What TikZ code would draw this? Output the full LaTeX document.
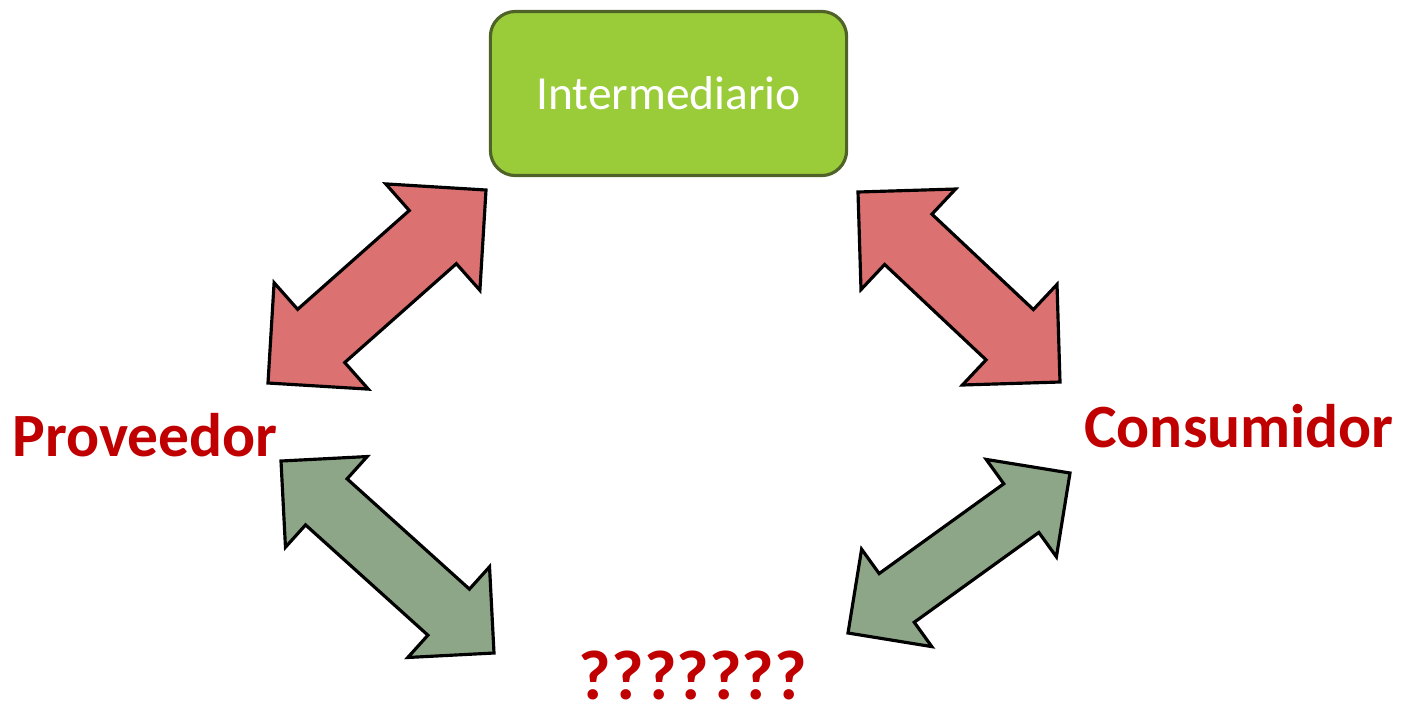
\documentclass[tikz,border=0pt]{standalone}
\usepackage{fontspec}
\setmainfont{Carlito}
\usetikzlibrary{calc}

\definecolor{boxgreen}{RGB}{154,204,58}
\definecolor{boxline}{RGB}{79,98,40}
\definecolor{arrowred}{RGB}{219,113,112}
\definecolor{arrowgreen}{RGB}{141,166,136}
\definecolor{labelred}{RGB}{192,0,0}

% #1 style, #2 #3 tips, #4 head length, #5 half head width, #6 half shaft width
\newcommand{\dblarrow}[6]{%
\draw [#1] (#2) -- ($(#2)!#4!(#3)!#5!90:(#3)$) -- ($(#2)!#4!(#3)!#6!90:(#3)$)
  -- ($(#3)!#4!(#2)!#6!-90:(#2)$) -- ($(#3)!#4!(#2)!#5!-90:(#2)$) -- (#3)
  -- ($(#3)!#4!(#2)!#5!90:(#2)$) -- ($(#3)!#4!(#2)!#6!90:(#2)$)
  -- ($(#2)!#4!(#3)!#6!-90:(#3)$) -- ($(#2)!#4!(#3)!#5!-90:(#3)$) -- cycle;}

\begin{document}
\begin{tikzpicture}[x=0.01cm, y=0.01cm,
  box/.style={draw=boxline, fill=boxgreen, line width=0.9pt, rounded corners=0.25cm,
    minimum width=3.56cm, minimum height=1.64cm, text=white, font=\fontsize{13.5}{16}\selectfont},
  lbl/.style={text=labelred, anchor=base, font=\bfseries\fontsize{17.5}{20}\selectfont},
  redarr/.style={draw=black, fill=arrowred, line width=0.9pt},
  greenarr/.style={draw=black, fill=arrowgreen, line width=0.9pt}]
\tikzstyle{every node}+=[inner sep=0pt]
\useasboundingbox (0,0) rectangle (1403,-711);
\node [box] (inter) at (668.5,-93.5) {Intermediario};
\node [lbl] (prov) at (145,-456) {Proveedor};
\node [lbl] (cons) at (1239,-447) {Consumidor};
\node [lbl, font=\bfseries\fontsize{20}{22}\selectfont] (unk) at (693,-699) {???????};
\coordinate (ip) at (486,-190);
\coordinate (pi) at (268,-383);
\coordinate (ic) at (858,-192);
\coordinate (ci) at (1060,-382);
\coordinate (pq) at (281,-461);
\coordinate (qp) at (494,-653);
\coordinate (cq) at (1070,-473);
\coordinate (qc) at (848,-633);
\dblarrow{redarr}{ip}{pi}{0.71cm}{0.71cm}{0.355cm}
\dblarrow{redarr}{ic}{ci}{0.69cm}{0.69cm}{0.345cm}
\dblarrow{greenarr}{pq}{qp}{0.61cm}{0.61cm}{0.31cm}
\dblarrow{greenarr}{cq}{qc}{0.60cm}{0.60cm}{0.30cm}
\end{tikzpicture}
\end{document}
